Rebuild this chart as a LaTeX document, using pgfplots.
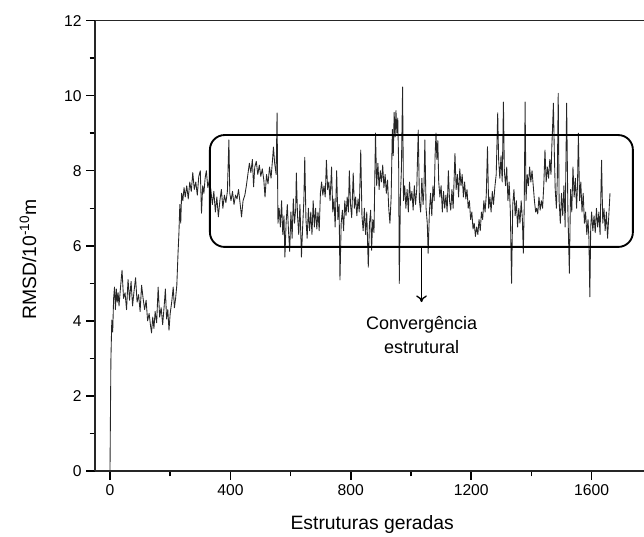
\documentclass[border=0pt]{standalone}
\usepackage{pgfplots}
\pgfplotsset{compat=1.18}
\usepackage{pgfplotstable}
\usepackage{fontspec}
\setmainfont{Liberation Sans}
\usetikzlibrary{arrows.meta}

\pgfplotstableread{
x y
0 0.0
3 2.96
6 4.02
9 3.7
12 4.6
15 4.9
18 4.3
21 4.85
24 4.5
27 4.75
30 4.4
35 4.9
40 5.35
45 4.6
50 4.75
55 4.3
60 5.1
65 4.55
70 5.05
75 4.4
80 4.8
85 5.15
90 4.5
95 4.7
100 4.25
105 4.95
110 4.6
115 4.3
120 4.55
125 4.0
130 4.2
135 3.85
138 3.68
142 4.1
146 3.8
150 4.25
155 3.95
160 4.9
165 4.1
170 4.35
175 3.9
180 4.4
184 4.85
188 4.05
192 4.3
196 3.75
200 4.2
205 4.5
210 4.9
214 4.35
218 4.6
222 4.95
226 5.8
229 6.34
232 7.1
235 6.6
238 7.4
242 7.2
246 7.55
250 7.3
255 7.6
260 7.25
265 7.7
270 7.45
275 7.95
280 7.5
285 7.7
290 7.35
295 7.85
300 8.0
304 6.87
308 7.6
312 7.4
316 7.8
320 8.0
325 7.55
330 7.75
335 7.5
340 7.1
345 7.45
350 6.9
355 7.3
360 6.77
365 7.2
370 7.5
375 7.0
380 7.35
385 7.15
390 7.45
395 8.82
398 7.4
402 7.2
407 7.45
412 7.1
417 7.35
422 7.25
427 7.5
432 7.15
437 6.77
442 7.2
448 7.35
453 7.6
458 7.9
463 8.2
468 7.95
473 8.3
477 7.57
481 8.1
486 8.25
491 7.9
496 8.15
501 7.85
506 8.05
511 7.75
515 7.3
520 7.9
525 7.65
530 8.1
535 7.8
540 8.3
543 8.63
547 8.2
552 7.9
555 9.54
558 6.6
562 7.0
566 6.5
570 7.2
574 6.3
578 6.8
581 5.7
585 6.6
589 7.1
593 6.4
597 5.85
601 6.9
605 6.2
609 7.25
613 6.6
617 7.0
619 7.94
623 6.8
627 6.3
631 7.1
636 5.7
640 6.5
644 7.2
647 8.36
651 6.7
655 6.2
659 7.0
663 6.4
667 6.9
671 6.3
675 7.2
679 6.5
683 7.0
687 6.45
691 6.9
695 6.4
699 7.4
703 7.7
707 7.35
711 7.6
715 7.3
719 8.28
723 7.5
727 7.7
731 7.2
736 8.1
740 6.9
744 7.25
748 6.5
753 8.0
757 6.7
761 7.1
764 5.09
768 6.6
772 6.95
776 6.4
780 7.2
784 6.8
788 7.3
792 6.9
795 8.0
799 7.1
803 6.75
808 7.94
812 7.0
816 7.3
820 6.8
824 7.25
828 6.9
833 8.55
837 6.8
841 6.4
845 7.0
849 6.3
853 6.9
858 5.43
862 6.6
866 6.95
869 5.88
873 6.7
877 6.35
882 9.0
886 7.6
890 8.2
894 7.5
898 8.0
902 7.7
906 8.15
910 7.55
914 7.9
918 7.4
922 7.75
926 7.0
930 6.6
934 7.3
938 9.1
941 8.4
944 9.55
947 8.9
950 9.6
953 9.0
956 9.4
959 8.1
961 5.0
965 7.4
968 8.0
972 10.23
975 7.2
979 7.6
983 7.0
987 7.5
991 6.9
995 7.7
999 7.2
1003 7.45
1007 6.95
1011 7.6
1015 7.1
1019 7.5
1024 9.08
1028 7.2
1032 6.9
1036 7.8
1040 7.1
1043 7.5
1046 8.82
1050 7.0
1054 6.6
1057 5.8
1061 6.9
1065 7.4
1069 6.8
1073 7.6
1077 7.2
1080 8.4
1083 9.0
1086 8.3
1089 8.8
1092 7.7
1096 7.3
1100 7.6
1104 6.9
1108 7.45
1112 7.0
1116 7.35
1120 6.9
1124 8.0
1128 7.2
1132 6.95
1136 7.5
1140 7.0
1146 8.46
1150 7.5
1154 7.9
1158 7.3
1162 8.05
1166 7.6
1170 7.9
1174 7.3
1178 7.7
1182 7.25
1186 7.5
1190 7.0
1194 7.2
1198 6.7
1202 6.9
1206 6.45
1210 6.6
1214 6.25
1218 6.5
1222 6.3
1226 6.7
1230 6.4
1234 6.9
1238 6.7
1242 7.2
1246 6.9
1250 7.35
1254 8.64
1258 7.0
1262 7.3
1266 6.9
1270 7.45
1274 7.1
1279 7.6
1283 7.9
1288 9.54
1291 8.3
1295 7.8
1299 8.4
1303 7.7
1307 9.83
1310 8.0
1314 7.6
1318 8.1
1322 7.2
1326 7.7
1330 6.9
1334 5.0
1338 7.1
1342 7.5
1346 6.8
1350 7.2
1354 6.5
1358 7.0
1362 6.6
1366 7.2
1370 6.7
1373 5.8
1376 7.0
1379 9.83
1382 7.2
1386 7.9
1390 7.6
1394 8.1
1398 7.7
1402 8.0
1406 7.6
1410 7.2
1414 6.9
1417 7.0
1421 6.85
1425 7.3
1429 6.95
1433 7.2
1437 7.0
1441 7.6
1445 8.55
1449 7.7
1453 8.1
1457 7.8
1461 8.3
1465 7.9
1468 8.7
1470 9.1
1473 9.8
1476 8.5
1479 7.5
1483 7.0
1486 7.8
1489 10.06
1492 7.2
1496 6.6
1500 7.4
1504 6.8
1508 7.6
1512 6.5
1517 9.8
1521 7.0
1526 5.27
1530 7.5
1534 6.9
1538 8.1
1542 7.3
1546 7.8
1550 7.0
1553 7.6
1556 9.0
1560 7.2
1564 7.7
1568 6.9
1572 7.4
1576 6.6
1580 6.9
1584 6.3
1588 6.7
1591 6.2
1594 4.64
1597 6.5
1600 6.9
1604 6.4
1608 6.8
1612 6.35
1616 7.0
1620 6.5
1624 6.9
1628 6.3
1633 8.28
1637 6.6
1641 7.0
1645 6.4
1649 6.9
1653 6.2
1657 6.8
1661 7.4
}\rmsd

\begin{document}
\begin{tikzpicture}
\begin{axis}[
  scale only axis,
  width=411.75pt, height=337.9pt,
  xmin=-49.8, xmax=1774, ymin=0, ymax=12,
  axis x line*=box, axis y line*=left,
  xtick={0,400,800,1200,1600},
  minor xtick={200,600,1000,1400},
  ytick={0,2,4,6,8,10,12},
  minor ytick={1,3,5,7,9,11},
  xtick pos=left, ytick pos=left,
  tick align=outside,
  major tick length=6.5pt, minor tick length=4pt,
  every tick/.style={black, line width=1.1pt},
  axis line style={line width=1.4pt, black!85},
  /pgf/number format/assume math mode=true,
  /pgf/number format/1000 sep={},
  tick label style={font=\fontsize{11.75}{13}\selectfont},
  xlabel={Estruturas geradas},
  ylabel={RMSD/10\textsuperscript{-10}m},
  label style={font=\fontsize{14.5}{17}\selectfont},
  xlabel style={at={(axis description cs:0.505,-0.118)}, anchor=center},
  ylabel style={at={(axis description cs:-0.122,0.47)}, anchor=center},
]
\coordinate (BL) at (rel axis cs:0,0);
\coordinate (TR) at (rel axis cs:1,1);
\addplot[black!85, line width=0.65pt, line join=round] table[x=x, y=y] {\rmsd};
\draw[line width=1.4pt, rounded corners=11pt] (axis cs:332,5.97) rectangle (axis cs:1737,8.95);
\draw[line width=1pt, -{To[length=5pt,width=8pt]}] (axis cs:1035,5.97) -- (axis cs:1035,4.5);
\node[align=center, font=\fontsize{13.5}{18}\selectfont] at (axis cs:1035,3.62) {Convergência\\estrutural};
\end{axis}
\pgfresetboundingbox
\path[use as bounding box] ([xshift=-71.25pt,yshift=-48.75pt]BL) rectangle ([yshift=15.4pt]TR);
\end{tikzpicture}
\end{document}
